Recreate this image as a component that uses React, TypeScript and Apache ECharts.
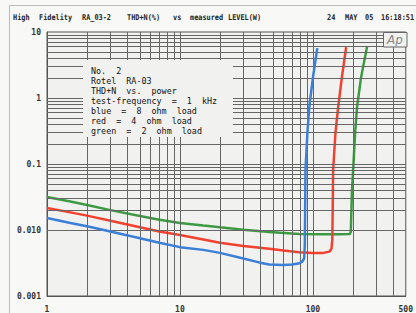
import React, { useEffect, useRef } from "react";
import * as echarts from "echarts";

// ---- data ----
const blueData: [number, number][] = [
  [1, 0.0152], [1.5, 0.0128], [2, 0.0114], [3, 0.0095], [5, 0.0075], [7, 0.0064],
  [10, 0.0055], [15, 0.005], [20, 0.0045], [30, 0.0037], [40, 0.0032], [47, 0.003],
  [60, 0.00295], [70, 0.003], [78, 0.0031], [83, 0.0033], [86, 0.0037], [87, 0.006],
  [87.5, 0.02], [88, 0.081], [91, 0.3], [94, 0.73], [100, 2.0], [108, 5.7],
];
const redData: [number, number][] = [
  [1, 0.0215], [1.5, 0.0185], [2, 0.0165], [3, 0.0138], [5, 0.011], [7, 0.0095],
  [10, 0.0084], [15, 0.0072], [20, 0.0064], [30, 0.0057], [47, 0.0052], [60, 0.0049],
  [79, 0.0046], [100, 0.0045], [120, 0.0045], [133, 0.0047], [138, 0.0052], [140, 0.007],
  [141, 0.02], [142, 0.081], [148, 0.3], [155, 0.73], [165, 2.0], [178, 5.9],
];
const greenData: [number, number][] = [
  [1, 0.0316], [1.5, 0.027], [2, 0.024], [3, 0.02], [5, 0.0163], [7, 0.0143],
  [10, 0.0128], [15, 0.0117], [20, 0.011], [30, 0.0101], [47, 0.0093], [79, 0.0087],
  [120, 0.0086], [160, 0.0086], [190, 0.0087], [193, 0.0095], [195, 0.02], [197, 0.04],
  [201, 0.081], [208, 0.3], [215, 0.73], [230, 2.0], [256, 6.1],
];
const xGridValues = [2, 3, 4, 5, 6, 7, 8, 9, 10, 20, 30, 40, 50, 60, 70, 80, 90, 100, 200, 300, 400];
const yGridValues = [
  0.002, 0.003, 0.004, 0.005, 0.006, 0.007, 0.008, 0.009, 0.01,
  0.02, 0.03, 0.04, 0.05, 0.06, 0.07, 0.08, 0.09, 0.1,
  0.2, 0.3, 0.4, 0.5, 0.6, 0.7, 0.8, 0.9, 1,
  2, 3, 4, 5, 6, 7, 8, 9,
];
const yTickLabels: Record<string, string> = { "-3": "0.001", "-2": "0.010", "-1": "0.1", "0": "1", "1": "10" };
const titleWords: [string, number][] = [
  ["High", 13], ["Fidelity", 39], ["RA_03-2", 82], ["THD+N(%)", 127], ["vs", 173],
  ["measured", 190], ["LEVEL(W)", 228], ["24", 327], ["MAY", 345], ["05", 365], ["16:18:51", 381],
];
const noteLines = [
  "No.  2",
  "Rotel  RA-03",
  "THD+N  vs.  power",
  "test-frequency  =  1  kHz",
  "blue  =  8  ohm  load",
  "red  =  4  ohm  load",
  "green  =  2  ohm  load",
];

const MONO = "'DejaVu Sans Mono', monospace";
const BG = "#f1f1ef";

export default function App() {
  const ref = useRef<HTMLDivElement>(null);
  useEffect(() => {
    if (!ref.current) return;
    const chart = echarts.init(ref.current, null, { renderer: "svg" });
    const gridLine = { color: "#666", width: 1, type: "solid" as const };
    const graphics: any[] = [
      {
        type: "rect", z: 100,
        shape: { x: 9.5, y: 5.5, width: 420, height: 320 },
        style: { fill: "none", stroke: "#bbb", lineWidth: 1 },
      },
      ...titleWords.map(([w, x]) => ({
        type: "text", z: 101, x, y: 17, scaleX: 0.86,
        style: { text: w, fontFamily: MONO, fontSize: 8, fontWeight: "bold", fill: "#222", verticalAlign: "middle", align: "left" },
      })),
      {
        type: "rect", z: 100,
        shape: { x: 83, y: 60, width: 150, height: 77 },
        style: { fill: BG, stroke: "none" },
      },
      ...noteLines.map((t, i) => ({
        type: "text", z: 101, x: 91, y: 71 + i * 10,
        style: { text: t, fontFamily: MONO, fontSize: 8.4, fill: "#111", verticalAlign: "middle", align: "left" },
      })),
      {
        type: "rect", z: 100,
        shape: { x: 383.5, y: 32.5, width: 23.5, height: 14.5 },
        style: { fill: BG, stroke: "#666", lineWidth: 1 },
      },
      {
        type: "text", z: 101, x: 395, y: 40,
        style: { text: "Ap", fontFamily: "'DejaVu Sans', sans-serif", fontStyle: "italic", fontSize: 12, fill: "#888", verticalAlign: "middle", align: "center" },
      },
    ];
    chart.setOption({
      animation: false,
      backgroundColor: "transparent",
      grid: { left: 47, right: 9, top: 32, bottom: 17, show: true, backgroundColor: BG, borderColor: "#555", borderWidth: 1 },
      xAxis: {
        type: "log", logBase: 10, min: 1, max: 500,
        axisLine: { show: true, lineStyle: { color: "#555" } },
        axisTick: { show: false },
        splitLine: { show: false },
        minorSplitLine: { show: false },
        axisLabel: {
          showMaxLabel: true, showMinLabel: true, margin: 9,
          fontFamily: MONO, fontSize: 8, fontWeight: "bold", color: "#333",
          formatter: (v: number) => String(Math.round(v)),
        },
      },
      yAxis: {
        type: "log", logBase: 10, min: 0.001, max: 10,
        axisLine: { show: true, lineStyle: { color: "#555" } },
        axisTick: { show: false },
        splitLine: { show: false },
        axisLabel: {
          margin: 6, fontFamily: MONO, fontSize: 8, fontWeight: "bold", color: "#333",
          formatter: (v: number) => yTickLabels[String(Math.round(Math.log10(v)))] ?? "",
        },
      },
      graphic: graphics,
      series: [
        {
          type: "line", data: [[1, 0.001]], symbol: "none", silent: true, z: 1,
          lineStyle: { opacity: 0 },
          markLine: {
            silent: true, symbol: ["none", "none"], label: { show: false },
            lineStyle: gridLine, animation: false,
            data: [
              ...xGridValues.map((v) => ({ xAxis: v })),
              ...yGridValues.map((v) => ({ yAxis: v })),
            ],
          },
        },
        { type: "line", data: greenData, showSymbol: false, symbol: "none", z: 3, lineStyle: { color: "#3d9a42", width: 2.5 } },
        { type: "line", data: redData, showSymbol: false, symbol: "none", z: 4, lineStyle: { color: "#f2422f", width: 2.5 } },
        { type: "line", data: blueData, showSymbol: false, symbol: "none", z: 5, lineStyle: { color: "#3b7fd6", width: 2.5 } },
      ],
    });
    return () => chart.dispose();
  }, []);
  return (
    <div style={{ position: "fixed", left: 0, top: 0, width: 416, height: 313, background: "#f8f8f6" }}>
      <div ref={ref} style={{ width: 416, height: 313 }} />
    </div>
  );
}
